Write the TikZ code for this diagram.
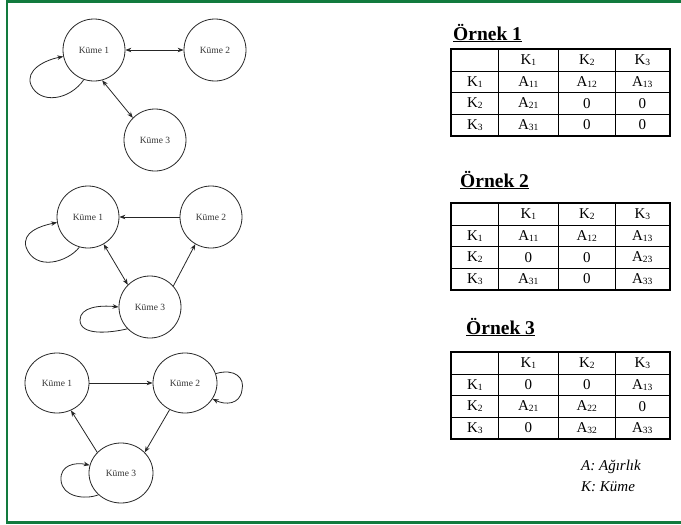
\documentclass[tikz,border=0pt]{standalone}
\usepackage{fontspec}
\setmainfont{Liberation Serif}
\usetikzlibrary{arrows.meta,shapes.geometric,matrix}
\definecolor{frameg}{RGB}{18,122,62}
\newcommand\sbd[1]{\raisebox{-0.8pt}{\fontsize{9.5}{10}\selectfont #1}}
\tikzset{
  kume/.style={circle,draw=black!85,line width=0.8pt,minimum size=62pt,inner sep=0pt,
    font=\fontsize{9.5}{11}\selectfont,text=black!80},
  kumee/.style={ellipse,draw=black!85,line width=0.8pt,minimum width=64pt,minimum height=60pt,inner sep=0pt,
    font=\fontsize{9.5}{11}\selectfont,text=black!80},
  conn/.style={line width=0.8pt,black!85,-{Stealth[length=6pt,width=4.5pt]}},
  conn2/.style={line width=0.8pt,black!85,{Stealth[length=6pt,width=4.5pt]}-{Stealth[length=6pt,width=4.5pt]}},
  tbl/.style={matrix of nodes,anchor=north west,inner sep=0pt,
    row sep=-0.7pt,column sep=-0.7pt,
    nodes={draw,line width=0.7pt,minimum height=21.5pt,inner sep=0pt,anchor=center,
      font=\fontsize{15}{17}\selectfont},
    column 1/.style={nodes={minimum width=46.5pt}},
    column 2/.style={nodes={minimum width=60.5pt}},
    column 3/.style={nodes={minimum width=56.5pt}},
    column 4/.style={nodes={minimum width=54.5pt}}},
  ttl/.style={anchor=west,inner sep=0pt,font=\fontsize{19.5}{22}\selectfont\bfseries},
  lgd/.style={anchor=west,inner sep=0pt,font=\fontsize{15}{17}\selectfont\itshape}
}
\begin{document}
\begin{tikzpicture}[x=1pt,y=-1pt]
\useasboundingbox (0,0) rectangle (681,525);
% frame
\draw[frameg,line width=2.6pt] (685,1.3) -- (7,1.3) -- (7,522.7) -- (685,522.7);

% Graph 1
\node[kume] (a1) at (94,50) {Küme 1};
\node[kume] (a2) at (215,50) {Küme 2};
\node[kume] (a3) at (155,140) {Küme 3};
\draw[conn2] (a1.east) -- (a2.west);
\draw[conn2] (a1.285) -- (a3.135);
\draw[conn] (a1.251) .. controls (70,100) and (40,105) .. (31,85) .. controls (25,70) and (45,60) .. (a1.192);

% Graph 2
\node[kume] (b1) at (88,217) {Küme 1};
\node[kume] (b2) at (211,217) {Küme 2};
\node[kume] (b3) at (150,307) {Küme 3};
\draw[conn] (b2.west) -- (b1.east);
\draw[conn2] (b1.300) -- (b3.135);
\draw[conn] (b3.42) -- (b2.240);
\draw[conn] (b1.254) .. controls (68,262) and (35,272) .. (26,247) .. controls (22,232) and (40,226) .. (b1.190);
\draw[conn] (b3.224) .. controls (110,333) and (80,336) .. (80,320) .. controls (80,307) and (100,305) .. (b3.180);

% Graph 3
\node[kumee] (c1) at (57,383) {Küme 1};
\node[kumee] (c2) at (185,383) {Küme 2};
\node[kumee] (c3) at (121,473) {Küme 3};
\draw[conn] (c1.east) -- (c2.west);
\draw[conn] (c2.240) -- (c3.41);
\draw[conn] (c3.139) -- (c1.297);
\draw[conn] (c2.17) .. controls (235,368) and (245,378) .. (242,390) .. controls (240,405) and (225,405) .. (c2.330);
\draw[conn] (c3.224) .. controls (85,500) and (62,497) .. (61,480) .. controls (60,465) and (75,462) .. (c3.166);

% Tables
\node[ttl] (o1) at (453,33) {\underline{Örnek 1}};
\matrix[tbl] (t1) at (451,49) {
  & K\sbd{1} & K\sbd{2} & K\sbd{3} \\
  K\sbd{1} & A\sbd{11} & A\sbd{12} & A\sbd{13} \\
  K\sbd{2} & A\sbd{21} & 0 & 0 \\
  K\sbd{3} & A\sbd{31} & 0 & 0 \\
};
\draw[line width=1.4pt] (t1.north west) rectangle (t1.south east);

\node[ttl] (o2) at (460,180) {\underline{Örnek 2}};
\matrix[tbl] (t2) at (451,203) {
  & K\sbd{1} & K\sbd{2} & K\sbd{3} \\
  K\sbd{1} & A\sbd{11} & A\sbd{12} & A\sbd{13} \\
  K\sbd{2} & 0 & 0 & A\sbd{23} \\
  K\sbd{3} & A\sbd{31} & 0 & A\sbd{33} \\
};
\draw[line width=1.4pt] (t2.north west) rectangle (t2.south east);

\node[ttl] (o3) at (466,327) {\underline{Örnek 3}};
\matrix[tbl] (t3) at (451,352) {
  & K\sbd{1} & K\sbd{2} & K\sbd{3} \\
  K\sbd{1} & 0 & 0 & A\sbd{13} \\
  K\sbd{2} & A\sbd{21} & A\sbd{22} & 0 \\
  K\sbd{3} & 0 & A\sbd{32} & A\sbd{33} \\
};
\draw[line width=1.4pt] (t3.north west) rectangle (t3.south east);

% legend
\node[lgd] (l1) at (581,467) {A: Ağırlık};
\node[lgd] (l2) at (581,487) {K: Küme};
\end{tikzpicture}
\end{document}
